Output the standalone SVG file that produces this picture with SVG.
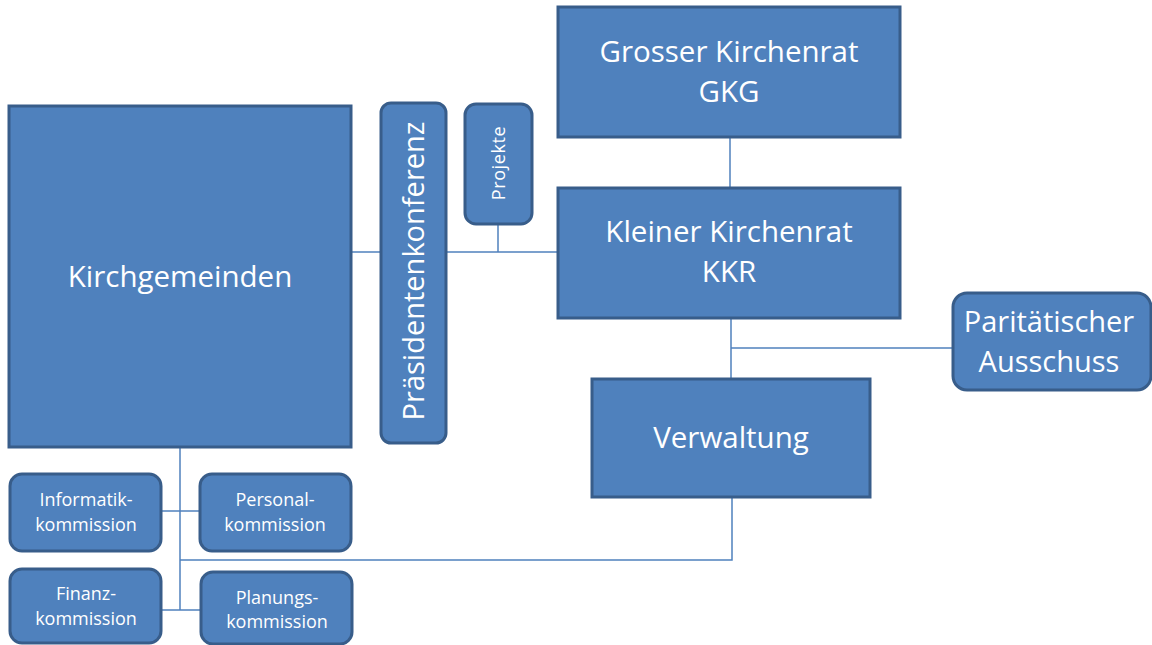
<svg xmlns="http://www.w3.org/2000/svg" width="1152" height="645" viewBox="0 0 1152 645">
<style>
.box{fill:#4F81BD;stroke:#385D8A;stroke-width:3}
.t{fill:#ffffff;font-family:"Open Sans","Noto Sans","DejaVu Sans",sans-serif;text-anchor:middle}
.big{font-size:29.5px}
.mid{font-size:29px}
.sm{font-size:18px}
.xs{font-size:18px;letter-spacing:0.6px}
.ln{stroke:#4F81BD;stroke-width:1.5;fill:none}
</style>
<rect width="1152" height="645" fill="#ffffff"/>
<g id="connectors">
<path class="ln" d="M351 252 H381"/>
<path class="ln" d="M446 252 H560"/>
<path class="ln" d="M498 224 V252"/>
<path class="ln" d="M730 137 V188"/>
<path class="ln" d="M731 318 V379"/>
<path class="ln" d="M731 348 H953"/>
<path class="ln" d="M732 497 V560 H180"/>
<path class="ln" d="M180 447 V610"/>
<path class="ln" d="M161 511 H200"/>
<path class="ln" d="M161 610 H201"/>
</g>
<g id="kirchgemeinden">
<rect class="box" x="9" y="106" width="342" height="341"/>
<text class="t big" x="180" y="287">Kirchgemeinden</text>
</g>
<g id="praesidentenkonferenz">
<rect class="box" x="381" y="103" width="65" height="340" rx="10"/>
<text class="t mid" transform="translate(424 271) rotate(-90)">Präsidentenkonferenz</text>
</g>
<g id="projekte">
<rect class="box" x="465" y="104" width="67" height="120" rx="11"/>
<text class="t xs" transform="translate(505 163) rotate(-90)">Projekte</text>
</g>
<g id="gkg">
<rect class="box" x="558" y="7" width="342" height="130"/>
<text class="t big" x="729" y="62">Grosser Kirchenrat</text>
<text class="t big" x="729" y="102">GKG</text>
</g>
<g id="kkr">
<rect class="box" x="558" y="188" width="342" height="130"/>
<text class="t big" x="729" y="242">Kleiner Kirchenrat</text>
<text class="t big" x="729" y="282">KKR</text>
</g>
<g id="paritaetischer">
<rect class="box" x="953" y="293" width="198" height="97" rx="14"/>
<text class="t mid" x="1049" y="332">Paritätischer</text>
<text class="t mid" x="1049" y="372">Ausschuss</text>
</g>
<g id="verwaltung">
<rect class="box" x="592" y="379" width="278" height="118"/>
<text class="t big" x="731" y="448">Verwaltung</text>
</g>
<g id="informatik">
<rect class="box" x="10" y="474" width="151" height="77" rx="12"/>
<text class="t sm" x="86" y="506">Informatik-</text>
<text class="t sm" x="86" y="531">kommission</text>
</g>
<g id="personal">
<rect class="box" x="200" y="474" width="151" height="77" rx="12"/>
<text class="t sm" x="275" y="506">Personal-</text>
<text class="t sm" x="275" y="531">kommission</text>
</g>
<g id="finanz">
<rect class="box" x="10" y="569" width="151" height="74" rx="12"/>
<text class="t sm" x="86" y="600">Finanz-</text>
<text class="t sm" x="86" y="625">kommission</text>
</g>
<g id="planungs">
<rect class="box" x="201" y="572" width="151" height="72" rx="12"/>
<text class="t sm" x="277" y="604">Planungs-</text>
<text class="t sm" x="277" y="628">kommission</text>
</g>
</svg>
